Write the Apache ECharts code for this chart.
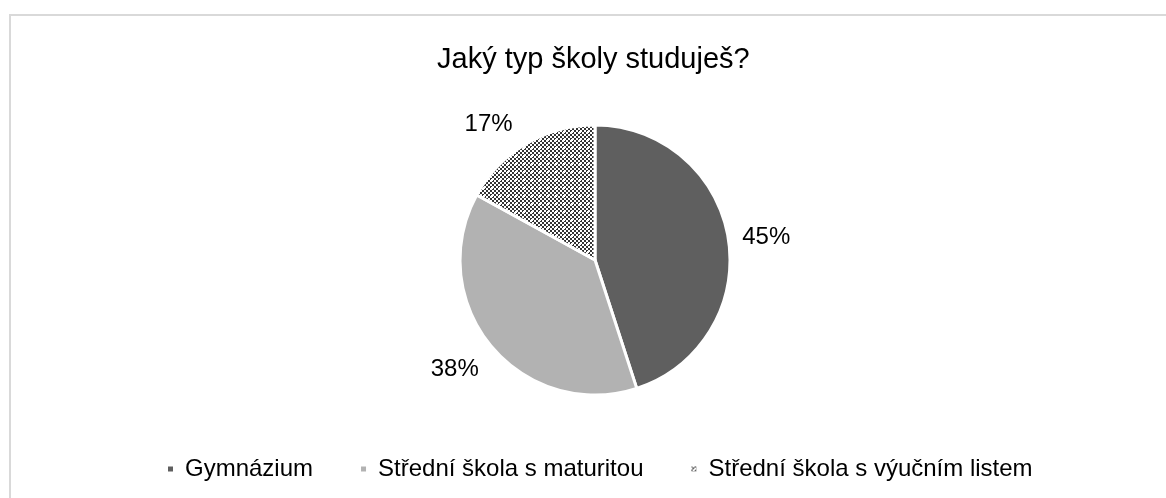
<!DOCTYPE html>
<html>
<head>
<meta charset="utf-8">
<script src="https://cdn.jsdelivr.net/npm/echarts@6/dist/echarts.min.js"></script>
<style>html,body{margin:0;padding:0;background:#fff;}#c{width:1166px;height:498px;}</style>
</head>
<body>
<div id="c"></div>
<script>
const titleText = 'Jaký typ školy studuješ?';
const categories = ['Gymnázium', 'Střední škola s maturitou', 'Střední škola s výučním listem'];
const values = [45, 38, 17];

function makePattern() {
  const c = document.createElement('canvas');
  c.width = 8; c.height = 8;
  const ctx = c.getContext('2d');
  ctx.fillStyle = '#ffffff';
  ctx.fillRect(0, 0, 8, 8);
  ctx.fillStyle = '#333333';
  for (let y = 0; y < 8; y++) {
    for (let x = 0; x < 8; x++) {
      const bx = Math.floor(x / 2), by = Math.floor(y / 2);
      if ((bx + by) % 2 === 0) ctx.fillRect(x, y, 1, 1);
    }
  }
  ctx.fillStyle = '#ffffff';
  ctx.fillRect(3, 3, 2, 2);
  return c;
}
const pattern = { image: makePattern(), repeat: 'repeat' };
const colors = ['#5f5f5f', '#b2b2b2', pattern];
const labelLineLengths = [9, 12, 21];
const labelOffsets = [[0, 0], [2, 16], [2, -1]];

const font = 'Liberation Sans, Arial, sans-serif';
const chart = echarts.init(document.getElementById('c'), null, { renderer: 'canvas' });
chart.setOption({
  animation: false,
  backgroundColor: '#ffffff',
  graphic: [{
    type: 'rect', shape: { x: 10, y: 15, width: 1300, height: 700 },
    style: { fill: 'none', stroke: '#d9d9d9', lineWidth: 2 }, silent: true, z: -1
  }],
  title: {
    text: titleText, left: 432, top: 40,
    textStyle: { fontFamily: font, fontSize: 29, fontWeight: 'normal', color: '#000' }
  },
  legend: {
    top: 452, left: 161, itemWidth: 7, itemHeight: 7, itemGap: 46, icon: 'rect',
    textStyle: { fontFamily: font, fontSize: 24, color: '#000', padding: [0, 0, 0, 6] },
    data: categories
  },
  series: [{
    type: 'pie',
    center: ['51.03%', '52.2%'],
    radius: 135,
    startAngle: 90,
    clockwise: true,
    data: categories.map((n, i) => ({
      name: n, value: values[i], itemStyle: { color: colors[i] },
      labelLine: { show: false, length: labelLineLengths[i], length2: 0 },
      label: { offset: labelOffsets[i] }
    })),
    itemStyle: { borderColor: '#ffffff', borderWidth: 3 },
    label: {
      show: true, position: 'outside', formatter: '{c}%',
      fontFamily: font, fontSize: 24, color: '#000'
    },
    labelLine: { show: false, length: 12, length2: 0 },
    emphasis: { disabled: true }
  }]
});
</script>
</body>
</html>
